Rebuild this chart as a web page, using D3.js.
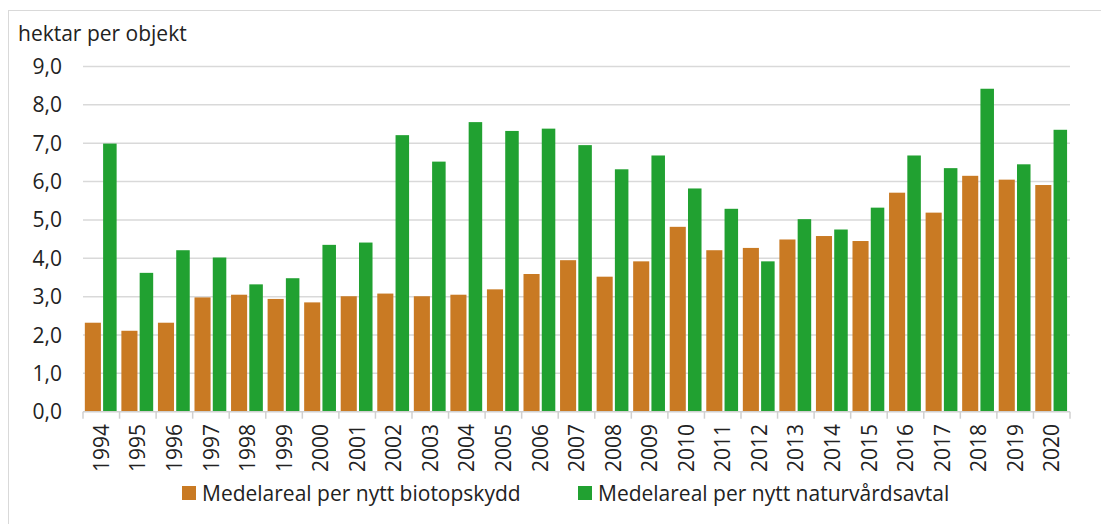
<!DOCTYPE html>
<html>
<head>
<meta charset="utf-8">
<script src="https://cdn.jsdelivr.net/npm/d3@7"></script>
<style>
  body { margin: 0; background: #fff; }
  svg { display: block; font-family: "Open Sans", Lato, sans-serif; }
</style>
</head>
<body>
<svg id="chart" width="1101" height="524"></svg>
<script>
const years = ["1994","1995","1996","1997","1998","1999","2000","2001","2002","2003",
  "2004","2005","2006","2007","2008","2009","2010","2011","2012","2013",
  "2014","2015","2016","2017","2018","2019","2020"];
const biotopskydd = [2.32, 2.11, 2.32, 2.98, 3.05, 2.94, 2.85, 3.01, 3.08, 3.01,
  3.05, 3.19, 3.59, 3.95, 3.52, 3.92, 4.82, 4.21, 4.27, 4.49,
  4.58, 4.45, 5.71, 5.19, 6.15, 6.05, 5.91];
const naturvardsavtal = [6.99, 3.62, 4.21, 4.02, 3.32, 3.48, 4.35, 4.41, 7.21, 6.52,
  7.55, 7.32, 7.38, 6.95, 6.32, 6.68, 5.82, 5.29, 3.92, 5.02,
  4.75, 5.32, 6.68, 6.35, 8.42, 6.45, 7.35];
const yTicks = [0, 1, 2, 3, 4, 5, 6, 7, 8, 9];
const seriesNames = ["Medelareal per nytt biotopskydd", "Medelareal per nytt naturvårdsavtal"];
const colors = ["#C97A23", "#21A131"];

const svg = d3.select("#chart");
const plotLeft = 83, plotRight = 1070, plotTop = 66.5, plotBottom = 411.7;
const fontSize = 21, textColor = "#222";

const x = d3.scaleBand().domain(years).range([plotLeft, plotRight]).padding(0);
const y = d3.scaleLinear().domain([0, 9]).range([plotBottom, plotTop]);
const bw = x.bandwidth();

// chart border (only top/left fall inside the picture)
svg.append("rect")
  .attr("x", 8.5).attr("y", 10.5)
  .attr("width", 1200).attr("height", 600)
  .attr("fill", "none").attr("stroke", "#d9d9d9").attr("stroke-width", 1);

// gridlines
svg.append("g")
  .selectAll("line")
  .data(yTicks.slice(1))
  .enter()
  .append("line")
  .attr("x1", plotLeft).attr("x2", plotRight)
  .attr("y1", function(d) { return y(d); })
  .attr("y2", function(d) { return y(d); })
  .attr("stroke", "#d9d9d9").attr("stroke-width", 1.5);

// y tick labels
svg.append("g")
  .selectAll("text")
  .data(yTicks)
  .enter()
  .append("text")
  .attr("x", 62)
  .attr("y", function(d) { return y(d); })
  .attr("dy", "0.36em")
  .attr("text-anchor", "end")
  .attr("font-size", fontSize)
  .attr("fill", textColor)
  .text(function(d) { return d3.format(".1f")(d).replace(".", ","); });

svg.append("text")
  .attr("x", 18).attr("y", 41)
  .attr("font-size", fontSize)
  .attr("fill", textColor)
  .text("hektar per objekt");

// bars
const bars = svg.append("g");
bars.selectAll("rect.b")
  .data(biotopskydd)
  .enter()
  .append("rect")
  .attr("class", "b")
  .attr("x", function(d, i) { return x(years[i]) + bw * 0.05; })
  .attr("width", bw * 0.44)
  .attr("y", function(d) { return y(d); })
  .attr("height", function(d) { return y(0) - y(d); })
  .attr("fill", colors[0]);

bars.selectAll("rect.n")
  .data(naturvardsavtal)
  .enter()
  .append("rect")
  .attr("class", "n")
  .attr("x", function(d, i) { return x(years[i]) + bw * 0.55; })
  .attr("width", bw * 0.37)
  .attr("y", function(d) { return y(d); })
  .attr("height", function(d) { return y(0) - y(d); })
  .attr("fill", colors[1]);

// x axis
const xAxis = svg.append("g");
xAxis.append("line")
  .attr("x1", plotLeft).attr("x2", plotRight)
  .attr("y1", plotBottom).attr("y2", plotBottom)
  .attr("stroke", "#d0d0d0").attr("stroke-width", 1.5);
xAxis.selectAll("line.tick")
  .data(years.concat(["end"]))
  .enter()
  .append("line")
  .attr("class", "tick")
  .attr("x1", function(d, i) { return plotLeft + i * bw; })
  .attr("x2", function(d, i) { return plotLeft + i * bw; })
  .attr("y1", plotBottom).attr("y2", plotBottom + 7)
  .attr("stroke", "#d0d0d0").attr("stroke-width", 1.5);
xAxis.selectAll("text")
  .data(years)
  .enter()
  .append("text")
  .attr("transform", function(d) { return "translate(" + (x(d) + bw / 2) + "," + 424 + ") rotate(-90)"; })
  .attr("dy", "0.36em")
  .attr("text-anchor", "end")
  .attr("font-size", fontSize)
  .attr("fill", textColor)
  .text(function(d) { return d; });

// legend
const legendX = [182, 578];
const legend = svg.append("g");
seriesNames.forEach(function(name, i) {
  legend.append("rect")
    .attr("x", legendX[i]).attr("y", 486)
    .attr("width", 14).attr("height", 14)
    .attr("fill", colors[i]);
  legend.append("text")
    .attr("x", legendX[i] + 20).attr("y", 493)
    .attr("dy", "0.36em")
    .attr("font-size", fontSize)
    .attr("fill", textColor)
    .text(name);
});
</script>
</body>
</html>
